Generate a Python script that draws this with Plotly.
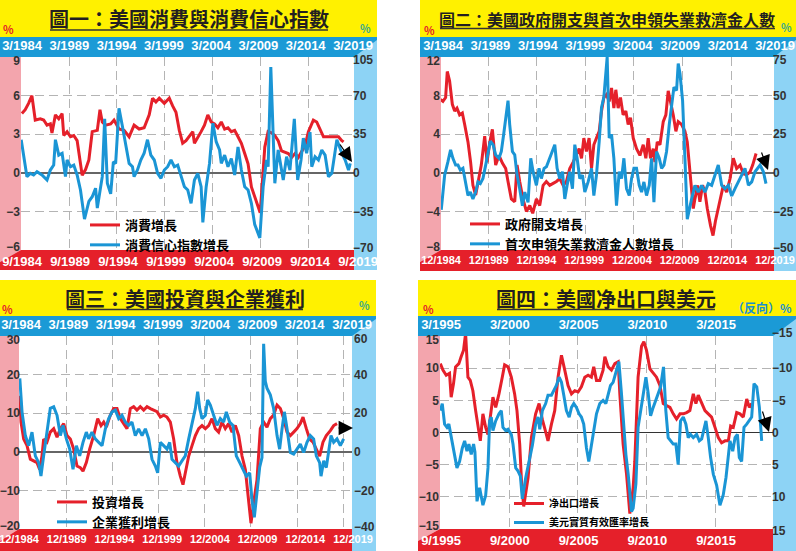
import plotly.graph_objects as go

# ======================= DATA =======================
# Panel 1: 美國消費 (left axis, %) & 消費信心指數 (right axis, %)
p1_spend_x = [1984.07,1984.42,1984.77,1985.12,1985.47,1986.0,1986.35,1986.7,1987.05,1987.22,1987.58,1987.93,1988.28,1988.45,1988.8,1989.15,1989.5,1989.85,1990.38,1990.73,1991.08,1991.43,1991.96,1992.24,1992.48,1992.83,1993.36,1993.71,1994.23,1994.76,1995.29,1995.81,1996.34,1996.86,1997.39,1997.74,1998.09,1998.44,1998.97,1999.49,1999.84,2000.19,2000.54,2000.89,2001.24,2001.6,2001.95,2002.12,2002.47,2002.82,2003.17,2003.52,2003.87,2004.22,2004.57,2004.93,2005.28,2005.63,2005.98,2006.33,2006.68,2007.03,2007.38,2007.73,2008.08,2008.43,2008.78,2009.0,2009.2,2009.48,2009.83,2010.18,2010.53,2010.88,2011.23,2011.59,2011.94,2012.29,2012.64,2012.99,2013.34,2013.69,2014.04,2014.56,2014.91,2015.26,2015.62,2016.14,2016.67,2017.19,2017.54,2017.72]
p1_spend = [4.6,4.9,5.4,6.0,4.1,4.2,4.1,3.7,3.8,3.1,4.5,4.2,4.6,2.9,3.2,2.8,2.9,2.5,-0.2,0.25,1.0,3.2,3.3,4.9,3.95,3.7,3.8,4.1,3.4,3.3,2.8,3.7,3.4,3.5,4.5,5.8,5.5,5.8,5.4,5.8,5.2,4.7,3.3,2.3,2.5,2.9,3.2,2.3,2.7,3.2,3.7,4.5,3.95,3.8,3.5,3.95,3.4,3.5,3.2,3.3,2.8,2.3,1.5,0.7,-1.1,-1.9,-2.6,-3.1,-1.0,2.0,3.2,3.1,2.9,2.5,1.7,1.6,1.5,1.2,1.5,1.2,1.7,2.1,3.2,4.1,3.95,3.4,2.8,2.8,2.8,2.8,2.5,2.4]
p1_conf_x = [1984.0,1984.25,1984.6,1984.95,1985.3,1985.65,1986.17,1986.7,1987.05,1987.4,1987.58,1987.93,1988.28,1988.63,1988.8,1989.15,1989.5,1989.85,1990.2,1990.62,1991.08,1991.43,1991.78,1991.96,1992.31,1992.48,1992.73,1993.01,1993.36,1993.64,1993.88,1994.23,1994.59,1994.94,1995.29,1995.64,1995.81,1996.16,1996.51,1996.86,1997.21,1997.56,1997.92,1998.27,1998.62,1998.97,1999.32,1999.67,2000.02,2000.37,2000.72,2001.07,2001.42,2001.77,2002.12,2002.47,2002.82,2003.0,2003.35,2003.7,2004.05,2004.4,2004.75,2004.93,2005.28,2005.63,2005.98,2006.33,2006.68,2007.03,2007.38,2007.73,2008.08,2008.43,2008.96,2009.31,2009.66,2009.83,2010.11,2010.36,2010.53,2010.88,2011.06,2011.41,2011.76,2012.11,2012.57,2012.92,2013.27,2013.51,2013.86,2014.21,2014.39,2014.74,2015.09,2015.44,2015.79,2016.14,2016.49,2017.02,2017.54,2017.89,2018.24,2018.42]
p1_conf = [30,14.6,-3.5,-0.5,-2,1,-2,-6.5,2.5,7,30,16,17.7,-3.5,11.6,5.5,7,-2,-15.6,-42,-26,-21.7,-14,-32,-9.5,-3.5,49,-9.5,-19,10,8.5,58.5,42,23.7,8.5,5.5,-3.5,2.5,11.6,17.7,30,16,11.6,-0.5,-5,2.5,5.5,11.6,5.5,7,-2,-12.6,-15.6,-27.7,-6.5,-0.5,-12.6,-45,-12.6,8.5,45,28,20.7,8.5,16,5.5,13,-2,23.5,2.5,-12.6,-15.6,-27.7,-47,-59,-12.6,11.6,5.5,96,26.7,-9.5,20.7,11.6,-6.5,14.6,2.5,49,-6.5,11.6,31.5,17.7,37,5.5,14.6,11.6,20.7,16,-3.5,-0.5,30,17.7,11.6,2.5,8.5]

# Panel 2: 政府開支 (left) & 首次申領失業救濟金人數 (right)
p2_gov_x = [1984.09,1984.36,1984.64,1984.81,1985.05,1985.33,1985.57,1985.81,1986.08,1986.36,1986.6,1986.94,1987.21,1987.45,1987.73,1987.97,1988.31,1988.66,1988.9,1989.17,1989.45,1989.79,1990.13,1990.48,1990.82,1991.06,1991.4,1991.75,1991.99,1992.26,1992.6,1992.95,1993.3,1993.6,1993.98,1994.32,1994.67,1995.0,1995.35,1995.7,1996.04,1996.38,1996.73,1997.07,1997.41,1997.76,1998.1,1998.38,1998.62,1998.86,1999.13,1999.4,1999.65,1999.89,2000.16,2000.44,2000.68,2000.92,2001.19,2001.47,2001.71,2001.95,2002.15,2002.39,2002.63,2002.9,2003.18,2003.42,2003.66,2003.94,2004.28,2004.63,2004.97,2005.24,2005.48,2005.72,2006.0,2006.17,2006.41,2006.69,2007.03,2007.3,2007.54,2007.78,2008.06,2008.33,2008.57,2008.92,2009.26,2009.5,2009.78,2010.12,2010.29,2010.57,2010.8,2011.08,2011.32,2011.56,2011.9,2012.15,2012.4,2012.87,2013.21,2013.55,2013.9,2014.24,2014.58,2014.93,2015.27,2015.61,2015.96,2016.23,2016.58]
p2_gov = [7.6,7.4,7.8,10.5,9.5,7.1,6.4,6.7,6.0,6.2,5.0,3.2,1.1,-1.3,-2.3,-0.9,0.8,3.8,1.1,3.1,4.5,0.8,1.8,1.0,0.45,-0.9,-2.7,-3.0,0.8,-0.9,-2.7,-4.0,-3.4,-4.2,-2.7,-3.4,-1.3,-0.9,-1.3,-1.1,-0.9,-0.6,-1.3,-0.9,0.45,1.1,1.8,2.5,1.5,3.6,2.2,3.6,0.45,2.9,3.6,4.3,6.4,7.8,8.1,7.4,8.8,6.7,8.6,6.7,7.8,6.0,6.4,5.0,5.7,3.6,2.5,1.8,2.9,1.5,3.6,1.5,2.5,1.1,3.2,2.9,5.3,6.0,8.5,7.4,6.0,4.3,5.3,5.0,4.3,3.2,-0.2,-3.7,-2.7,-1.3,-3.0,-1.3,-2.0,-3.7,-5.5,-6.5,-5.0,-2.7,-1.3,-2.0,-0.6,1.5,0.45,0.8,-0.1,-0.2,0.1,0.8,2.0]
p2_claims_x = [1984.19,1984.54,1984.88,1985.15,1985.39,1985.67,1985.91,1986.15,1986.42,1986.7,1986.94,1987.18,1987.45,1987.73,1987.97,1988.21,1988.48,1988.76,1989.0,1989.24,1989.52,1989.79,1990.13,1990.37,1990.61,1990.89,1991.06,1991.23,1991.51,1991.75,1991.99,1992.26,1992.54,1992.78,1993.12,1993.4,1993.64,1993.98,1994.25,1994.49,1994.77,1995.01,1995.35,1995.63,1995.87,1996.11,1996.38,1996.66,1996.9,1997.14,1997.41,1997.69,1997.93,1998.17,1998.44,1998.72,1998.96,1999.3,1999.65,1999.89,2000.16,2000.44,2000.68,2000.92,2001.12,2001.26,2001.47,2001.71,2001.95,2002.22,2002.5,2002.74,2002.98,2003.25,2003.53,2003.77,2004.01,2004.28,2004.56,2004.8,2005.04,2005.31,2005.59,2005.83,2006.07,2006.34,2006.62,2006.86,2007.1,2007.37,2007.65,2007.89,2008.13,2008.4,2008.57,2008.75,2009.02,2009.26,2009.5,2009.95,2010.29,2010.63,2010.98,2011.32,2011.66,2012.01,2012.35,2012.69,2013.04,2013.38,2013.73,2014.07,2014.41,2014.76,2015.1,2015.44,2015.79,2016.13,2016.47,2016.99,2017.33,2017.6]
p2_claims = [-24,-1.5,7.2,14.9,9.4,5.0,5.0,1.8,2.9,-5.9,-14.7,-12.5,-16.9,-12.5,-5.9,-7.0,-3.7,5.0,13.8,20.4,18.2,11.6,9.4,13.8,24.8,40.1,46.7,31.4,13.8,11.6,-1.5,-10.3,-21.3,-12.5,-19.1,9.4,0.7,-8.1,2.9,-3.7,2.9,3.9,9.4,13.8,18.2,2.9,-3.7,0.7,-16.9,-8.1,0.7,-10.3,18.2,9.4,-3.7,-1.5,-12.5,-5.9,2.9,-14.7,-1.5,20.4,42.3,48.9,62.1,75,22.6,24.8,9.4,-21.3,0.7,-3.7,9.4,-10.3,-14.7,-3.7,2.9,2.9,-8.1,-12.5,-5.9,-14.7,-8.1,9.4,-19.1,13.8,9.4,2.9,5.0,13.8,31.4,44.5,55.5,53.3,70.8,64.3,46.7,9.4,-30,-16.9,-8.1,-12.5,-8.1,-12.5,-7.0,-8.1,-1.5,5.0,-8.1,-10.3,-8.1,-15,-10.3,-5.9,-1.5,2.9,-8.1,-5.9,0.7,5.0,0.7,-7.0]

# Panel 3: 投資 (left) & 企業獲利 (right)
p3_inv_x = [1984.0,1984.13,1984.42,1984.78,1985.14,1985.5,1985.86,1986.15,1986.4,1986.58,1986.94,1987.3,1987.67,1988.03,1988.39,1988.75,1989.11,1989.47,1989.83,1990.19,1990.55,1990.84,1991.2,1991.56,1991.99,1992.43,1992.79,1993.08,1993.37,1993.8,1994.16,1994.52,1994.88,1995.24,1995.6,1995.96,1996.32,1996.68,1997.04,1997.41,1997.77,1998.13,1998.49,1998.85,1999.21,1999.57,1999.93,2000.29,2000.65,2001.01,2001.37,2001.66,2001.91,2002.28,2002.64,2003.0,2003.36,2003.72,2004.08,2004.44,2004.8,2005.16,2005.52,2005.88,2006.24,2006.6,2006.97,2007.33,2007.69,2008.05,2008.41,2008.6,2008.88,2009.02,2009.31,2009.67,2010.03,2010.39,2010.75,2011.11,2011.47,2011.84,2012.2,2012.56,2012.92,2013.28,2013.64,2014.0,2014.36,2014.65,2015.01,2015.37,2015.73,2016.09,2016.45,2016.81,2017.17,2017.61,2017.97,2018.33]
p3_inv = [14.5,7.7,3.3,1.6,-1.9,-2.4,-2.8,-4.6,-1.1,3.3,2.5,5.1,6.0,3.8,6.0,7.3,4.2,3.3,0.7,-3.7,-4.1,-5.0,-2.8,0.7,4.2,8.6,6.8,7.7,6.4,9.5,11.2,11.2,8.6,7.3,6.0,11.2,11.7,10.8,11.7,10.8,11.7,11.2,10.8,10.4,9.0,9.5,9.0,7.7,3.3,-2.8,-6.3,-8.5,-5.5,-1.1,1.6,4.2,6.0,6.8,6.0,6.8,8.6,6.0,5.1,7.7,6.0,7.3,5.1,6.8,4.2,-1.1,-4.6,-9.0,-15.9,-18.5,-13.2,-7.3,6.0,7.7,6.4,8.6,9.5,12.1,11.2,8.6,5.1,4.2,5.1,6.0,7.3,9.0,6.0,3.3,2.5,0.7,-1.1,2.5,4.2,5.5,6.8,7.3]
p3_profit_x = [1984.0,1984.24,1984.6,1984.96,1985.32,1985.68,1986.04,1986.29,1986.58,1986.94,1987.3,1987.67,1988.03,1988.39,1988.68,1989.04,1989.4,1989.76,1990.12,1990.48,1990.84,1991.2,1991.45,1991.81,1992.17,1992.54,1992.9,1993.26,1993.62,1993.98,1994.34,1994.7,1995.06,1995.42,1995.78,1996.14,1996.5,1996.86,1997.23,1997.59,1997.95,1998.31,1998.67,1998.92,1999.21,1999.57,1999.93,2000.22,2000.47,2000.83,2001.19,2001.55,2001.91,2002.28,2002.64,2003.0,2003.25,2003.47,2003.72,2004.08,2004.33,2004.62,2004.98,2005.34,2005.7,2006.06,2006.35,2006.71,2007.07,2007.43,2007.8,2008.16,2008.52,2008.88,2009.13,2009.38,2009.67,2009.96,2010.21,2010.39,2010.57,2010.75,2011.11,2011.47,2011.84,2012.12,2012.38,2012.63,2012.92,2013.28,2013.64,2014.0,2014.36,2014.72,2015.08,2015.44,2015.8,2016.09,2016.45,2016.6,2016.89,2017.17,2017.43,2017.68,2017.97,2018.33,2018.69,2019.05]
p3_profit = [38,20.7,8.4,3.2,10.2,-2.1,-5.6,-12.6,-2.1,10.2,22.5,23.3,18.9,8.4,13.7,6.7,1.4,-9.1,3.2,-2.1,4.9,10.2,6.7,10.2,6.7,4.9,3.2,11.9,17.2,20.7,21.6,17.2,18.9,15.4,13.7,15.4,8.4,11.9,8.4,11.9,6.7,-3.9,-7.4,-10.9,4.9,3.2,1.4,4.9,-3.9,-5.6,-7.4,-4.7,-2.1,6.7,15.4,22.5,31.2,22.5,17.2,18.9,26.8,24.2,18.9,13.7,17.2,15.4,20.7,15.4,13.7,-2.1,-5.6,-9.1,-12.6,-10.9,-25,-34,-20,-8,-3,56,36.5,33,29.5,22.5,8.4,1.4,11.9,20.7,11.9,-0.4,-1.2,1.4,4,-0.4,4.9,8.4,6.7,-2.1,-5.6,-12.6,-4.7,-8.2,1.4,8.4,4.9,6.7,3.2,6.7]

# Panel 4: 净出口 (left) & 美元實質有效匯率 (right, reversed axis)
p4_nx_x = [1995.0,1995.19,1995.43,1995.67,1995.79,1995.96,1996.11,1996.35,1996.52,1996.69,1996.84,1997.01,1997.18,1997.37,1997.57,1997.74,1997.91,1998.1,1998.3,1998.47,1998.64,1998.83,1999.03,1999.27,1999.51,1999.68,1999.93,2000.17,2000.41,2000.58,2000.78,2000.92,2001.07,2001.39,2001.63,2001.94,2002.19,2002.43,2002.72,2002.84,2003.09,2003.33,2003.57,2003.82,2004.06,2004.3,2004.55,2004.79,2005.03,2005.27,2005.52,2005.76,2006.0,2006.17,2006.37,2006.61,2006.85,2006.98,2007.22,2007.46,2007.71,2007.95,2008.07,2008.31,2008.56,2008.8,2009.04,2009.16,2009.4,2009.65,2009.82,2010.01,2010.26,2010.5,2010.74,2010.99,2011.23,2011.47,2011.72,2011.96,2012.2,2012.45,2012.69,2012.93,2013.17,2013.42,2013.61,2013.78,2014.03,2014.27,2014.51,2014.75,2015.0,2015.24,2015.48,2015.73,2015.97,2016.14,2016.33,2016.58,2016.82,2017.06,2017.31,2017.5,2017.67]
p4_nx = [10.7,9.7,8.9,9.2,5.5,7.6,10.2,10.7,11.8,12.8,15.4,8.6,8.1,6.5,3.4,0.8,-1.3,2.9,0.8,-0.3,2.4,5.5,3.9,6.0,8.6,10.5,10.2,8.6,6.0,3.4,-1.8,-8.0,-11.5,-7.0,-0.8,2.9,4.5,2.0,-0.3,-1.3,1.3,3.4,8.6,12.0,9.7,7.3,6.0,6.5,6.3,7.1,8.6,8.9,8.6,10.2,8.1,8.1,9.7,11.8,10.2,9.7,10.7,11.0,6.0,-1.8,-6.5,-12.6,-8.6,-4.5,8.6,13.4,14.1,12.8,9.9,9.2,8.6,7.3,4.5,4.2,3.9,2.9,2.1,2.9,2.9,3.1,3.4,6.0,4.5,5.8,4.5,3.4,2.9,2.4,0.8,-0.8,-1.6,-1.3,-1.3,1.0,0.8,3.1,2.9,2.4,5.2,3.9,4.5]
p4_usd_x = [1995.0,1995.14,1995.31,1995.48,1995.62,1995.79,1996.04,1996.21,1996.4,1996.6,1996.77,1996.94,1997.08,1997.25,1997.42,1997.52,1997.67,1997.86,1998.1,1998.3,1998.47,1998.59,1998.71,1998.83,1999.03,1999.27,1999.44,1999.56,1999.76,1999.93,2000.17,2000.29,2000.49,2000.66,2000.83,2000.97,2001.22,2001.46,2001.7,2001.94,2002.11,2002.24,2002.43,2002.67,2002.84,2003.09,2003.26,2003.45,2003.65,2003.82,2003.99,2004.18,2004.38,2004.55,2004.72,2004.91,2005.1,2005.27,2005.44,2005.64,2005.81,2006.0,2006.17,2006.37,2006.61,2006.85,2007.05,2007.22,2007.39,2007.58,2007.78,2008.0,2008.19,2008.36,2008.51,2008.68,2008.92,2009.04,2009.24,2009.4,2009.58,2009.77,2009.97,2010.14,2010.31,2010.5,2010.7,2010.87,2011.04,2011.25,2011.42,2011.59,2011.76,2011.96,2012.15,2012.32,2012.49,2012.69,2012.88,2013.05,2013.22,2013.42,2013.66,2013.86,2014.03,2014.2,2014.34,2014.51,2014.68,2014.88,2015.12,2015.36,2015.6,2015.8,2015.97,2016.09,2016.29,2016.46,2016.63,2016.77,2016.94,2017.11,2017.31,2017.5,2017.67,2017.84,2018.04,2018.23,2018.4]
p4_usd = [-3.4,-4.5,-1.3,-0.8,-1.3,0.8,3.4,5.5,4.5,2.4,1.3,2.9,1.8,3.4,1.8,3.0,10.7,8.6,11.3,9.8,5.5,-1.8,-2.4,-0.3,-1.8,-2.9,-3.4,-0.8,-0.3,-0.5,0.3,1.8,5.5,6.0,6.8,10.3,7.0,4.5,2.0,-1.3,-2.4,-0.5,-3.4,-4.5,-5.8,-5.8,-6.5,-7.3,-8.6,-7.8,-5.8,-3.4,-2.4,-3.9,-4.5,-3.9,-2.9,-2.4,-1.3,2.4,4.5,2.0,-0.8,-2.9,-4.5,-5.0,-4.5,-5.8,-7.3,-7.8,-9.2,-11.0,-6.0,-0.8,3.4,6.5,12.3,11.8,8.0,-0.8,-3.4,-6.0,-8.6,-6.0,-2.6,-3.9,-5.0,-6.0,-7.1,-10.2,-3.4,0.8,1.3,1.8,1.8,5.0,-1.8,-2.4,-1.3,0.8,0.3,0.8,0.3,1.3,1.0,-0.3,-1.8,0.8,3.9,6.5,8.2,11.3,9.7,7.0,3.4,1.3,2.9,0.8,0.3,3.9,4.5,-0.8,-1.3,-1.8,-2.4,-7.6,-7.1,-3.9,1.3]

# Titles / legend names / tick labels
titles = ["圖一：美國消費與消費信心指數", "圖二：美國政府開支與首次申領失業救濟金人數",
          "圖三：美國投資與企業獲利", "圖四：美國净出口與美元"]
red_names = ["消費增長", "政府開支增長", "投資增長", "净出口增長"]
blue_names = ["消費信心指數增長", "首次申領失業救濟金人數增長", "企業獲利增長", "美元實質有效匯率增長"]

years_a = [1984, 1989, 1994, 1999, 2004, 2009, 2014, 2019]
years_b = [1995, 2000, 2005, 2010, 2015]
top_text_a = ["3/1984", "3/1989", "3/1994", "3/1999", "3/2004", "3/2009", "3/2014", "3/2019"]
bot_text_1 = ["9/1984", "9/1989", "9/1994", "9/1999", "9/2004", "9/2009", "9/2014", "9/2019"]
bot_text_23 = ["12/1984", "12/1989", "12/1994", "12/1999", "12/2004", "12/2009", "12/2014", "12/2019"]
top_text_b = ["3/1995", "3/2000", "3/2005", "3/2010", "3/2015"]
bot_text_b = ["9/1995", "9/2000", "9/2005", "9/2010", "9/2015"]

left_ticks = [[-6, -3, 0, 3, 6, 9], [-8, -4, 0, 4, 8, 12], [-20, -10, 0, 10, 20, 30],
              [-15, -10, -5, 0, 5, 10, 15]]
right_ticks = [[-70, -35, 0, 35, 70, 105], [-50, -25, 0, 25, 50, 75], [-40, -20, 0, 20, 40, 60],
               [-15, -10, -5, 0, 5, 10, 15]]

# ======================= LAYOUT GEOMETRY =======================
W, H = 796, 551
def fx(p): return p / W
def fy(p): return 1 - p / H

panels = [
    dict(px0=0, px1=377, ty0=0, ty1=37, x0=21, x1=354, y0=57, y1=250, ry1=270, lpos=20, rpos=352),
    dict(px0=420, px1=796, ty0=0, ty1=37, x0=441, x1=774, y0=57, y1=250, ry1=271, lpos=440, rpos=772),
    dict(px0=0, px1=376, ty0=280, ty1=316, x0=19, x1=352, y0=336, y1=529, ry1=551, lpos=20, rpos=353),
    dict(px0=418, px1=796, ty0=280, ty1=316, x0=440, x1=773, y0=336, y1=529, ry1=551, lpos=439, rpos=771),
]
grid_ref = [(1989, 69, 2014, 308), (1989, 488, 2014, 731), (1989, 66, 2014, 297), (2000, 509, 2015, 715)]
top_ref = [(1984, 22, 2019, 353), (1984, 443, 2019, 775), (1984, 21, 2019, 352), (1995, 441, 2015, 716)]
bot_ref = [(1984, 22, 2019, 358), (1984, 441, 2019, 775), (1984, 19, 2019, 353), (1995, 441, 2015, 716)]

def lin_range(d0, d1, ya, pa, yb, pb):
    k = (pb - pa) / (yb - ya)
    return [ya - (pa - d0) / k, yb + (d1 - pb) / k]

def xr(n): return 'x' if n == 1 else f'x{n}'
def yr(n): return 'y' if n == 1 else f'y{n}'
def xname(n): return 'xaxis' if n == 1 else f'xaxis{n}'
def yname(n): return 'yaxis' if n == 1 else f'yaxis{n}'

RED = '#E5202A'
BLUE = '#1A95D5'
YELLOW = '#FFF100'
BAND_BLUE = '#1B9AD6'
LIGHT_BLUE = '#8DD3F5'
PINK = '#F3A5AD'
GRID = '#b4b4b4'
NUMFONT = 'Liberation Sans, Arial, sans-serif'
CJK = 'Noto Sans CJK TC, Noto Sans CJK SC, sans-serif'
YFONT = dict(family=NUMFONT, size=12, color='#333', weight='bold')

series = [
    (p1_spend_x, p1_spend, p1_conf_x, p1_conf),
    (p2_gov_x, p2_gov, p2_claims_x, p2_claims),
    (p3_inv_x, p3_inv, p3_profit_x, p3_profit),
    (p4_nx_x, p4_nx, p4_usd_x, p4_usd),
]
legend_ids = ['legend', 'legend2', 'legend3', 'legend4']

fig = go.Figure()
layout = {}
shapes = []
annotations = []

def rect(a0, b0, a1, b1, color):
    return dict(type='rect', xref='paper', yref='paper', x0=fx(a0), x1=fx(a1),
                y0=fy(b1), y1=fy(b0), fillcolor=color, line=dict(width=0), layer='below')

def poly(pts, color):
    d = 'M ' + ' L '.join(f'{fx(a)},{fy(b)}' for a, b in pts) + ' Z'
    return dict(type='path', xref='paper', yref='paper', path=d, fillcolor=color,
                line=dict(width=0), layer='below')

def carrier(xa, ya):
    # empty trace so that a label-only axis gets its own (invisible) subplot
    return go.Scatter(x=[None], y=[None], mode='lines', showlegend=False, hoverinfo='skip',
                      xaxis=xa, yaxis=ya)

for i, P in enumerate(panels):
    rx, ry, bx, by = series[i]
    fig.add_trace(go.Scatter(x=rx, y=ry, mode='lines', name=red_names[i],
                             line=dict(color=RED, width=3), xaxis=xr(i + 1), yaxis=yr(i + 1),
                             legend=legend_ids[i], hoverinfo='skip'))
    fig.add_trace(go.Scatter(x=bx, y=by, mode='lines', name=blue_names[i],
                             line=dict(color=BLUE, width=3), xaxis=xr(i + 1), yaxis=yr(i + 5),
                             legend=legend_ids[i], hoverinfo='skip'))
    for ya in (i + 17, i + 21, i + 25, i + 29):
        fig.add_trace(carrier(xr(i + 1), yr(ya)))
    fig.add_trace(carrier(xr(i + 5), yr(i + 9)))
    fig.add_trace(carrier(xr(i + 9), yr(i + 13)))

    gy = years_b if i == 3 else years_a
    ttext = top_text_b if i == 3 else top_text_a
    btext = bot_text_b if i == 3 else (bot_text_1 if i == 0 else bot_text_23)

    # main x (gridlines only)
    layout[xname(i + 1)] = dict(type='linear', domain=[fx(P['x0']), fx(P['x1'])], anchor=yr(i + 1),
                                range=lin_range(P['x0'], P['x1'], *grid_ref[i]),
                                tickmode='array', tickvals=gy, showticklabels=False, ticks='',
                                showgrid=True, gridcolor=GRID, griddash='9px,5px', gridwidth=1,
                                zeroline=False, showline=False, fixedrange=True)
    lt = left_ticks[i]
    lrange = [lt[0], lt[-1]]
    layout[yname(i + 1)] = dict(type='linear', domain=[fy(P['y1']), fy(P['y0'])],
                                anchor='free', position=fx(P['lpos']),
                                range=lrange, tickmode='array', tickvals=lt[1:-1],
                                showgrid=True, gridcolor=GRID, griddash='9px,5px', gridwidth=1,
                                zeroline=True, zerolinecolor='#333' if i == 3 else '#666',
                                zerolinewidth=1.6, ticks='', showline=False,
                                tickfont=YFONT, fixedrange=True)
    rt = right_ticks[i]
    rrange = [rt[-1], rt[0]] if i == 3 else [rt[0], rt[-1]]
    layout[yname(i + 5)] = dict(type='linear', overlaying=yr(i + 1), anchor='free',
                                position=fx(P['rpos']), side='right', range=rrange,
                                tickmode='array', tickvals=rt[1:-1], showgrid=False, zeroline=False,
                                ticks='', showline=False, tickfont=YFONT, fixedrange=True)
    # extreme tick labels, nudged inward (top ones down, bottom ones up) to clear the bands
    edge = [(i + 17, 'left', P['lpos'], lrange, lrange[1], 4),
            (i + 21, 'left', P['lpos'], lrange, lrange[0], -3),
            (i + 25, 'right', P['rpos'], rrange, rrange[1], 3),
            (i + 29, 'right', P['rpos'], rrange, rrange[0], -2)]
    for (n, side, pos, rng, val, shift) in edge:
        layout[yname(n)] = dict(type='linear', overlaying=yr(i + 1), anchor='free',
                                position=fx(pos), side=side, range=rng, tickmode='array',
                                tickvals=[val], ticklabelshift=shift, showgrid=False,
                                zeroline=False, ticks='', showline=False, tickfont=YFONT,
                                fixedrange=True)
    # top label axis (white labels on the blue band)
    ytop = P['y0'] - 3
    layout[xname(i + 5)] = dict(type='linear', domain=[fx(P['px0']), fx(P['px1'])], anchor=yr(i + 9),
                                side='top', range=lin_range(P['px0'], P['px1'], *top_ref[i]),
                                tickmode='array', tickvals=gy, ticktext=ttext, ticks='',
                                showgrid=False, zeroline=False, showline=False,
                                ticklabeloverflow='allow',
                                tickfont=dict(family=NUMFONT, size=13, color='white', weight='bold'),
                                fixedrange=True)
    layout[yname(i + 9)] = dict(type='linear', domain=[fy(ytop), fy(ytop) + 0.0005],
                                anchor=xr(i + 5), visible=False, range=[0, 1], fixedrange=True)
    # bottom label axis (white labels on the red band)
    ybot = P['y1'] + 2
    layout[xname(i + 9)] = dict(type='linear', domain=[fx(P['px0']), fx(P['px1'])], anchor=yr(i + 13),
                                side='bottom', range=lin_range(P['px0'], P['px1'], *bot_ref[i]),
                                tickmode='array', tickvals=gy, ticktext=btext, ticks='',
                                showgrid=False, zeroline=False, showline=False,
                                ticklabeloverflow='allow',
                                tickfont=dict(family=NUMFONT, size=11 if i in (1, 2) else 13,
                                              color='white', weight='bold'),
                                fixedrange=True)
    layout[yname(i + 13)] = dict(type='linear', domain=[fy(ybot) - 0.0005, fy(ybot)],
                                 anchor=xr(i + 9), visible=False, range=[0, 1], fixedrange=True)

    # ---- decorative bands ----
    shapes.append(rect(P['px0'], P['ty0'], P['px1'], P['ty1'], YELLOW))
    shapes.append(rect(P['px0'], P['ty1'], P['px1'], P['y0'], BAND_BLUE))
    shapes.append(poly([(P['x1'], P['y0']), (P['px1'], P['ty1'] + 3), (P['px1'], P['ry1']),
                        (P['x1'], P['ry1'])], LIGHT_BLUE))
    shapes.append(poly([(P['px0'], P['y0']), (P['x0'], P['y0']), (P['x0'], P['y1']),
                        (P['px0'], P['y1'] + 12)], PINK))
    shapes.append(poly([(P['px0'], P['y1'] + 12), (P['x0'], P['y1']), (P['x1'], P['y1']),
                        (P['x1'], P['ry1']), (P['px0'], P['ry1'])], RED))

# Titles
title_pos = [(189, 19, 20, 50, 328, 30), (607, 18.5, 16, 440, 775, 28.5),
             (185, 299, 20, 67, 303, 309.5), (606, 299, 20, 497, 715, 309.5)]
for t, (cx, cy, fs, u0, u1, uy) in zip(titles, title_pos):
    annotations.append(dict(text=f'<b>{t}</b>', x=fx(cx), y=fy(cy), xref='paper', yref='paper',
                            showarrow=False, xanchor='center', yanchor='middle',
                            font=dict(family=CJK, size=fs, color='#231f20')))
    shapes.append(dict(type='line', xref='paper', yref='paper', x0=fx(u0), x1=fx(u1),
                       y0=fy(uy), y1=fy(uy), line=dict(color='#333', width=1.5)))

# Percent marks
pct = [(8, 29, RED, '%', 11), (365, 28, '#3aa98c', '%', 11), (430, 30, RED, '%', 11),
       (786, 27, '#3aa98c', '%', 11), (7, 309, RED, '%', 11), (364, 305, '#3aa98c', '%', 11),
       (428, 309, RED, '%', 11), (762, 307, '#1A8FD0', '（反向）%', 12)]
for (x, y, c, s, fs) in pct:
    annotations.append(dict(text=f'<b>{s}</b>', x=fx(x), y=fy(y), xref='paper', yref='paper',
                            showarrow=False, xanchor='center', yanchor='middle',
                            font=dict(family=CJK, size=fs, color=c)))

# Arrows
arrows = [(352, 162, -13, -19), (768, 170, -7, -19), (353, 428, -16, 0), (769, 432, -7, -22)]
for (x, y, ax, ay) in arrows:
    annotations.append(dict(text='', x=fx(x), y=fy(y), xref='paper', yref='paper',
                            showarrow=True, ax=ax, ay=ay, arrowhead=2, arrowsize=2.4,
                            arrowwidth=1.2, arrowcolor='black'))

# Legends
leg_pos = [(85, 210, 13), (465, 209, 13), (52, 487, 13), (509, 489, 10)]
for lid, (lx, ly, fs) in zip(legend_ids, leg_pos):
    layout[lid] = dict(x=fx(lx), y=fy(ly), xanchor='left', yanchor='top',
                       bgcolor='rgba(0,0,0,0)', borderwidth=0, tracegroupgap=0,
                       font=dict(family=CJK, size=fs, color='black', weight='bold'),
                       itemclick=False, itemdoubleclick=False)

fig.update_layout(**layout)
fig.update_layout(width=W, height=H, autosize=False, margin=dict(l=0, r=0, t=0, b=0, pad=0),
                  paper_bgcolor='white', plot_bgcolor='rgba(0,0,0,0)', template='none',
                  showlegend=True, hovermode=False, shapes=shapes, annotations=annotations)

# remove the browser's default 8px body margin so the 796x551 figure fills the window exactly
fig.write_html("out.html", config={'displayModeBar': False, 'staticPlot': True},
               post_script="document.body.style.margin='0px';document.body.style.overflow='hidden';")
